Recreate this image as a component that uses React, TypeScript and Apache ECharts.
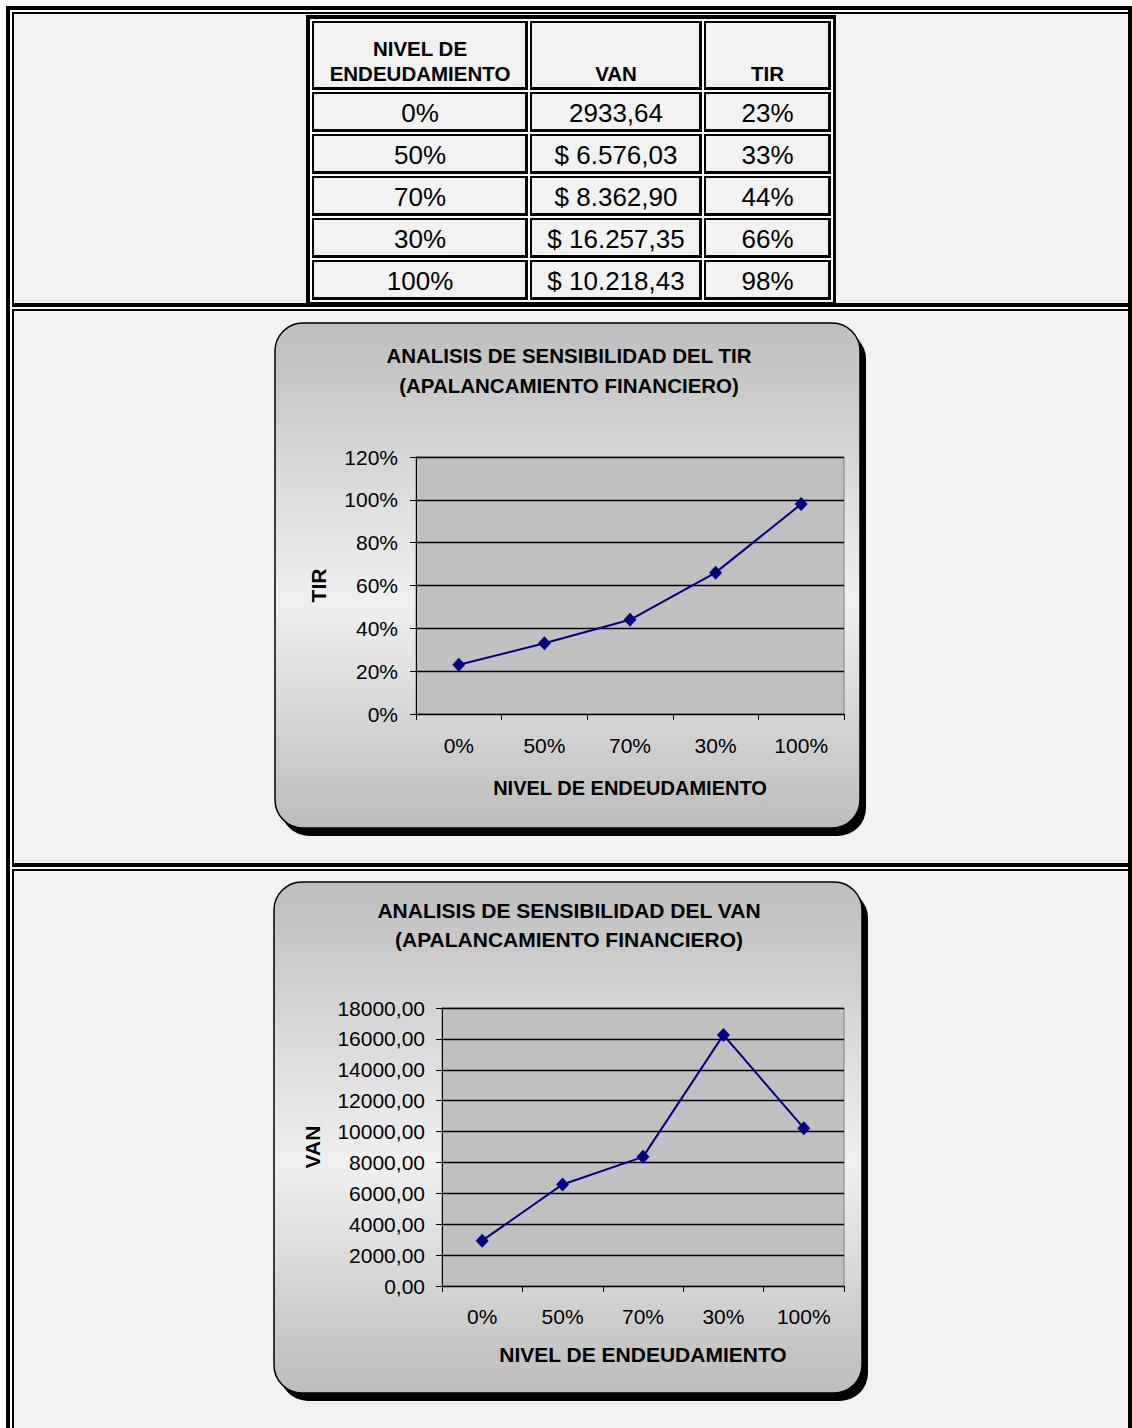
import React, { useEffect, useRef } from 'react';
import * as echarts from 'echarts';

const categories = ['0%', '50%', '70%', '30%', '100%'];
const tirValues = [0.23, 0.33, 0.44, 0.66, 0.98];
const vanValues = [2933.64, 6576.03, 8362.9, 16257.35, 10218.43];
const vanLabels = ['2933,64', '$ 6.576,03', '$ 8.362,90', '$ 16.257,35', '$ 10.218,43'];
const tirLabels = ['23%', '33%', '44%', '66%', '98%'];
const tableHeader = [['NIVEL DE', 'ENDEUDAMIENTO'], ['VAN'], ['TIR']];
const tirTitle = ['ANALISIS DE SENSIBILIDAD DEL TIR', '(APALANCAMIENTO FINANCIERO)'];
const vanTitle = ['ANALISIS DE SENSIBILIDAD DEL VAN', '(APALANCAMIENTO FINANCIERO)'];
const xAxisName = 'NIVEL DE ENDEUDAMIENTO';
const tirAxisName = 'TIR';
const vanAxisName = 'VAN';

const FONT = '"Liberation Sans", Arial, Helvetica, sans-serif';
const BG = '#f2f2f2';

function box(x1: number, y1: number, x2: number, y2: number, fill: string, z = -20) {
  return { type: 'rect', silent: true, z, shape: { x: x1, y: y1, width: x2 - x1, height: y2 - y1 }, style: { fill } };
}

function txt(s: string, x: number, y: number, size: number, bold: boolean, z = -10) {
  return {
    type: 'text', silent: true, z, x, y,
    style: { text: s, fill: '#000', font: `${bold ? 'bold ' : ''}${size}px ${FONT}`, textAlign: 'center', textVerticalAlign: 'middle' },
  };
}

function buildGraphics() {
  const g: any[] = [];
  // page outer border
  g.push(box(6, 6, 1140, 1440, '#000'));
  g.push(box(10, 10, 1128, 1440, '#fff'));
  // page cells: thin top/left, thick bottom/right
  const pageRows = [[12, 307], [309, 867], [869, 1440]];
  pageRows.forEach(([a, b]) => {
    g.push(box(12, a, 1132, b, '#000'));
    g.push(box(14, a + 2, 1128, b - 4, BG));
  });
  // table
  g.push(box(306, 15, 836, 305, '#000'));
  g.push(box(310, 19, 833, 302, '#fff'));
  const cols = [[312, 528], [530, 702], [704, 831]];
  const rows = [[21, 90], [92, 132], [134, 174], [176, 216], [218, 258], [260, 300]];
  rows.forEach(([ra, rb]) => {
    cols.forEach(([ca, cb]) => {
      g.push(box(ca, ra, cb, rb, '#000'));
      g.push(box(ca + 2, ra + 2, cb - 3, rb - 3, BG));
    });
  });
  const cx = cols.map(([a, b]) => (a + b) / 2);
  g.push(txt(tableHeader[0][0], cx[0], 48, 20.5, true));
  g.push(txt(tableHeader[0][1], cx[0], 73, 20.5, true));
  g.push(txt(tableHeader[1][0], cx[1], 73, 20.5, true));
  g.push(txt(tableHeader[2][0], cx[2], 73, 20.5, true));
  categories.forEach((c, i) => {
    const [ra, rb] = rows[i + 1];
    const cy = (ra + rb) / 2 + 1;
    g.push(txt(c, cx[0], cy, 26, false));
    g.push(txt(vanLabels[i], cx[1], cy, 26, false));
    g.push(txt(tirLabels[i], cx[2], cy, 26, false));
  });
  // chart frames
  const frame = (x: number, y: number, w: number, h: number) => {
    g.push({ type: 'rect', silent: true, z: -15, shape: { x: x + 6, y: y + 8, width: w, height: h, r: 28 }, style: { fill: '#000' } });
    g.push({
      type: 'rect', silent: true, z: -15, shape: { x, y, width: w, height: h, r: 28 },
      style: {
        fill: new echarts.graphic.LinearGradient(0, 0, 0, 1, [
          { offset: 0, color: '#bebebe' },
          { offset: 0.55, color: '#f0f0f0' },
          { offset: 1, color: '#bcbcbc' },
        ]),
        stroke: '#000', lineWidth: 1.5,
      },
    });
  };
  frame(275, 323, 585, 505);
  frame(274, 882, 588, 511);
  g.push(txt(tirTitle[0], 569, 355, 20.5, true, -12));
  g.push(txt(tirTitle[1], 569, 385, 20.5, true, -12));
  g.push(txt(vanTitle[0], 569, 910, 21, true, -12));
  g.push(txt(vanTitle[1], 569, 939, 21, true, -12));
  return g;
}

const pct = (v: number) => `${Math.round(v * 100)}%`;
const money = (v: number) => v.toFixed(2).replace('.', ',');

function xAxisCfg(gridIndex: number, margin: number, nameGap: number, nameSize: number) {
  return {
    type: 'category', gridIndex, data: categories, boundaryGap: true,
    axisLine: { show: true, lineStyle: { color: '#000', width: 1 } },
    axisTick: { show: true, length: 6, lineStyle: { color: '#000' } },
    axisLabel: { color: '#000', fontSize: 21, fontFamily: FONT, margin },
    splitLine: { show: false },
    name: xAxisName, nameLocation: 'middle', nameGap,
    nameTextStyle: { color: '#000', fontSize: nameSize, fontWeight: 'bold', fontFamily: FONT },
  };
}

function yAxisCfg(gridIndex: number, max: number, interval: number, fmt: (v: number) => string, name: string, nameGap: number, margin: number) {
  return {
    type: 'value', gridIndex, min: 0, max, interval,
    axisLine: { show: true, lineStyle: { color: '#000', width: 1 } },
    axisTick: { show: true, length: 6, lineStyle: { color: '#000' } },
    axisLabel: { color: '#000', fontSize: 21, fontFamily: FONT, margin, formatter: fmt },
    splitLine: { show: true, lineStyle: { color: '#000', width: 1.3 } },
    name, nameLocation: 'middle', nameGap, nameRotate: 90,
    nameTextStyle: { color: '#000', fontSize: 21, fontWeight: 'bold', fontFamily: FONT },
  };
}

export default function App() {
  const ref = useRef<HTMLDivElement>(null);
  useEffect(() => {
    if (!ref.current) return;
    const chart = echarts.init(ref.current, null, { renderer: 'svg' });
    chart.setOption({
      animation: false,
      backgroundColor: '#fff',
      textStyle: { fontFamily: FONT },
      graphic: { elements: buildGraphics() },
      grid: [
        { left: 416, top: 457, width: 428, height: 257, show: true, backgroundColor: '#c0c0c0', borderColor: '#808080', borderWidth: 1 },
        { left: 442, top: 1008, width: 402, height: 278, show: true, backgroundColor: '#c0c0c0', borderColor: '#808080', borderWidth: 1 },
      ],
      xAxis: [xAxisCfg(0, 21, 64, 20), xAxisCfg(1, 20, 58, 21)],
      yAxis: [
        yAxisCfg(0, 1.2, 0.2, pct, tirAxisName, 87, 18),
        yAxisCfg(1, 18000, 2000, money, vanAxisName, 119, 17),
      ],
      series: [
        {
          type: 'line', xAxisIndex: 0, yAxisIndex: 0, data: tirValues,
          symbol: 'diamond', symbolSize: [13, 14],
          lineStyle: { color: '#000080', width: 2 }, itemStyle: { color: '#000080' },
        },
        {
          type: 'line', xAxisIndex: 1, yAxisIndex: 1, data: vanValues,
          symbol: 'diamond', symbolSize: [13, 14],
          lineStyle: { color: '#000080', width: 2 }, itemStyle: { color: '#000080' },
        },
      ],
    });
    return () => chart.dispose();
  }, []);
  return <div ref={ref} style={{ position: 'absolute', left: 0, top: 0, width: 1132, height: 1428 }} />;
}
